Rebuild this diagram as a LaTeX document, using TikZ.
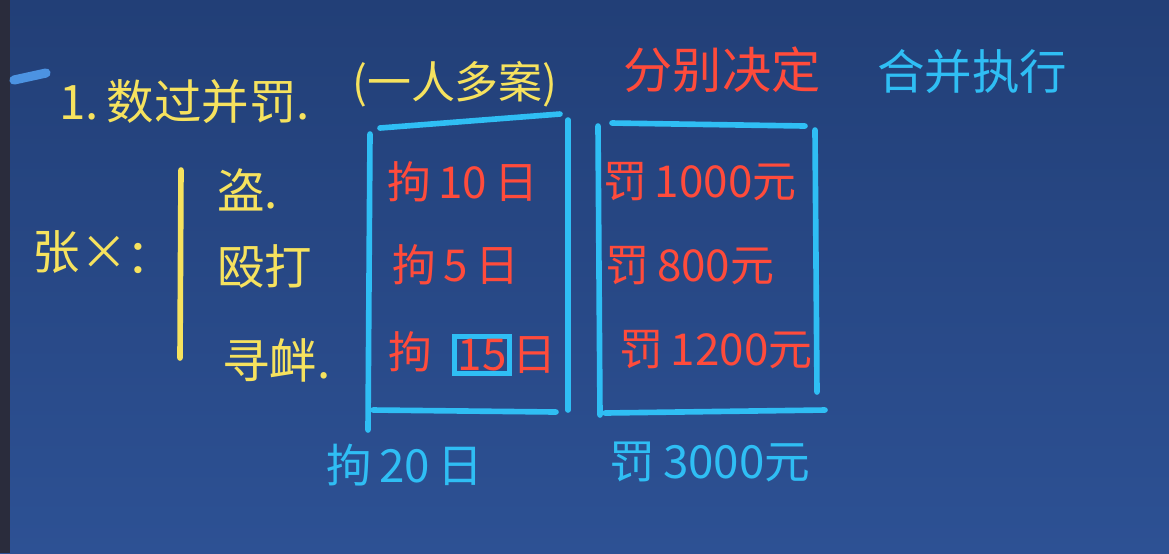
\documentclass[tikz,border=0pt]{standalone}
\usepackage{fontspec}
\usepackage{tikz}
\usetikzlibrary{positioning,calc}
\newfontfamily\cjk{Noto Sans CJK SC}
\definecolor{BoardTop}{HTML}{223F77}
\definecolor{BoardBottom}{HTML}{2D5194}
\definecolor{BoardEdge}{HTML}{2A2C3C}
\definecolor{ChalkYellow}{HTML}{F6E25E}
\definecolor{ChalkRed}{HTML}{FF4B3B}
\definecolor{ChalkCyan}{HTML}{2FBEF4}
\definecolor{ChalkDash}{HTML}{4C93E2}

\begin{document}
\begin{tikzpicture}[
  x=0.01cm,y=-0.01cm,
  yeltxt/.style={text=ChalkYellow,font=\cjk\fontsize{13.5}{15}\selectfont,inner sep=1pt},
  redtxt/.style={text=ChalkRed,font=\cjk\fontsize{12.5}{14}\selectfont,inner sep=1pt},
  cyantxt/.style={text=ChalkCyan,font=\cjk\fontsize{13}{15}\selectfont,inner sep=1pt},
  chalk/.style={line width=1.6pt,line cap=round,draw=ChalkCyan},
  yelchalk/.style={line width=1.6pt,line cap=round,draw=ChalkYellow}
]
% board
\shade[top color=BoardTop,bottom color=BoardBottom] (0,0) rectangle (1169,553);
\fill[BoardEdge] (0,0) rectangle (10,553);
\useasboundingbox (0,0) rectangle (1169,553);
\draw[line width=2.6pt,line cap=round,draw=ChalkDash] (14,80) -- (46,73);

% heading
\node[yeltxt,anchor=west] (title) at (55,102) {1.\,数过并罚.};
\node[yeltxt,anchor=west,font=\cjk\fontsize{12.5}{14}\selectfont] (case) at (348,84) {(一人多案)};
\node[redtxt,font=\cjk\fontsize{14}{16}\selectfont] (sep) at (722,70) {分别决定};
\node[cyantxt,font=\cjk\fontsize{13.5}{15}\selectfont] (merge) at (972,72) {合并执行};

% person and acts
\node[yeltxt] (person) at (80,252) {张×};
\node[yeltxt] (colon) at (150,258) {：};
\draw[yelchalk] (181,170) -- (180,358);
\node[yeltxt,anchor=west] (theft) at (213,190) {盗.};
\node[yeltxt,anchor=west] (fight) at (213,266) {殴打};
\node[yeltxt,anchor=west] (riot) at (218,360) {寻衅.};

% detention box
\draw[chalk] (380,128) -- (560,114);
\draw[chalk] (370,134) -- (368,430);
\draw[chalk] (568,120) -- (568,410);
\draw[chalk] (373,410) -- (556,412);
\node[redtxt,anchor=west] (det1) at (383,182) {拘\,10\,日};
\node[redtxt,anchor=west] (det2) at (388,265) {拘\,5\,日};
\node[redtxt] (det3) at (410,352) {拘};
\node[redtxt,draw=ChalkCyan,line width=1.4pt,inner sep=0.8pt] (fifteen) at (482,355) {15};
\node[redtxt] (day3) at (534,355) {日};

% fine box
\draw[chalk] (612,123) -- (805,126);
\draw[chalk] (598,126) -- (600,415);
\draw[chalk] (815,130) -- (817,392);
\draw[chalk] (605,413) -- (825,410);
\node[redtxt] (fine1) at (700,182) {罚\,1000元};
\node[redtxt] (fine2) at (690,266) {罚\,800元};
\node[redtxt] (fine3) at (716,350) {罚\,1200元};

% totals
\node[cyantxt] (dettotal) at (405,465) {拘\,20\,日};
\node[cyantxt] (finetotal) at (710,462) {罚\,3000元};
\end{tikzpicture}
\end{document}
